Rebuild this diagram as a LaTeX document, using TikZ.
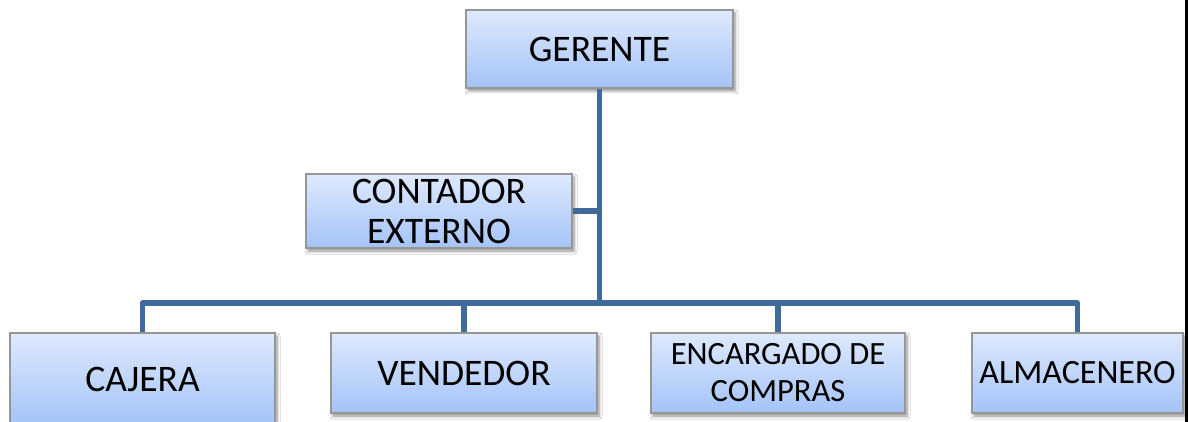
\documentclass[tikz,border=0pt]{standalone}
\usepackage{fontspec}
\setmainfont{Carlito}
\usetikzlibrary{shadows.blur}
\definecolor{linkblue}{RGB}{64,106,154}
\definecolor{boxtop}{RGB}{222,233,253}
\definecolor{boxbot}{RGB}{164,195,247}
\definecolor{boxline}{RGB}{150,150,150}
\tikzset{
  orgbox/.style={rectangle, draw=boxline, line width=1.2pt, inner sep=0pt,
    top color=boxtop, bottom color=boxbot, align=center, text=black,
    blur shadow={shadow xshift=2pt, shadow yshift=-3pt, shadow blur steps=6, shadow opacity=45, shadow blur radius=3pt}},
  link/.style={draw=linkblue, line width=5.5pt, line join=round},
  big/.style={font=\fontsize{37.5}{40}\selectfont},
  mid/.style={font=\fontsize{32.5}{37}\selectfont},
  almfont/.style={font=\fontsize{34}{38}\selectfont},
}
\begin{document}
\begin{tikzpicture}[x=1pt,y=-1pt]
\useasboundingbox[fill=white] (0,0) rectangle (1188,422);
% nodes
\node[orgbox,big,minimum width=267pt,minimum height=78pt] (ger) at (599.5,49) {GERENTE};
\node[orgbox,big,minimum width=266pt,minimum height=74pt] (cont) at (439,211) {CONTADOR\\EXTERNO};
\node[orgbox,big,minimum width=265pt,minimum height=92pt] (caj) at (142.5,379) {CAJERA};
\node[orgbox,big,minimum width=266pt,minimum height=80pt] (ven) at (464,373) {VENDEDOR};
\node[orgbox,mid,minimum width=254pt,minimum height=80pt] (enc) at (778,373) {ENCARGADO DE\\COMPRAS};
\node[orgbox,almfont,minimum width=211pt,minimum height=80pt] (alm) at (1077.5,373) {ALMACENERO};
% connectors
\coordinate (bar) at (600,303);
\draw[link] (ger.south) -- (ger.south |- bar);
\draw[link] (ger.south |- bar) -| (caj.north);
\draw[link] (ger.south |- bar) -| (ven.north);
\draw[link] (ger.south |- bar) -| (enc.north);
\draw[link] (ger.south |- bar) -| (alm.north);
\draw[link] (cont.east) -- (cont.east -| ger.south);
% right edge line
\coordinate (edgetop) at (1186.5,0);
\coordinate (edgebot) at (1186.5,422);
\draw[black, line width=2.5pt] (edgetop) -- (edgebot);
\end{tikzpicture}
\end{document}
